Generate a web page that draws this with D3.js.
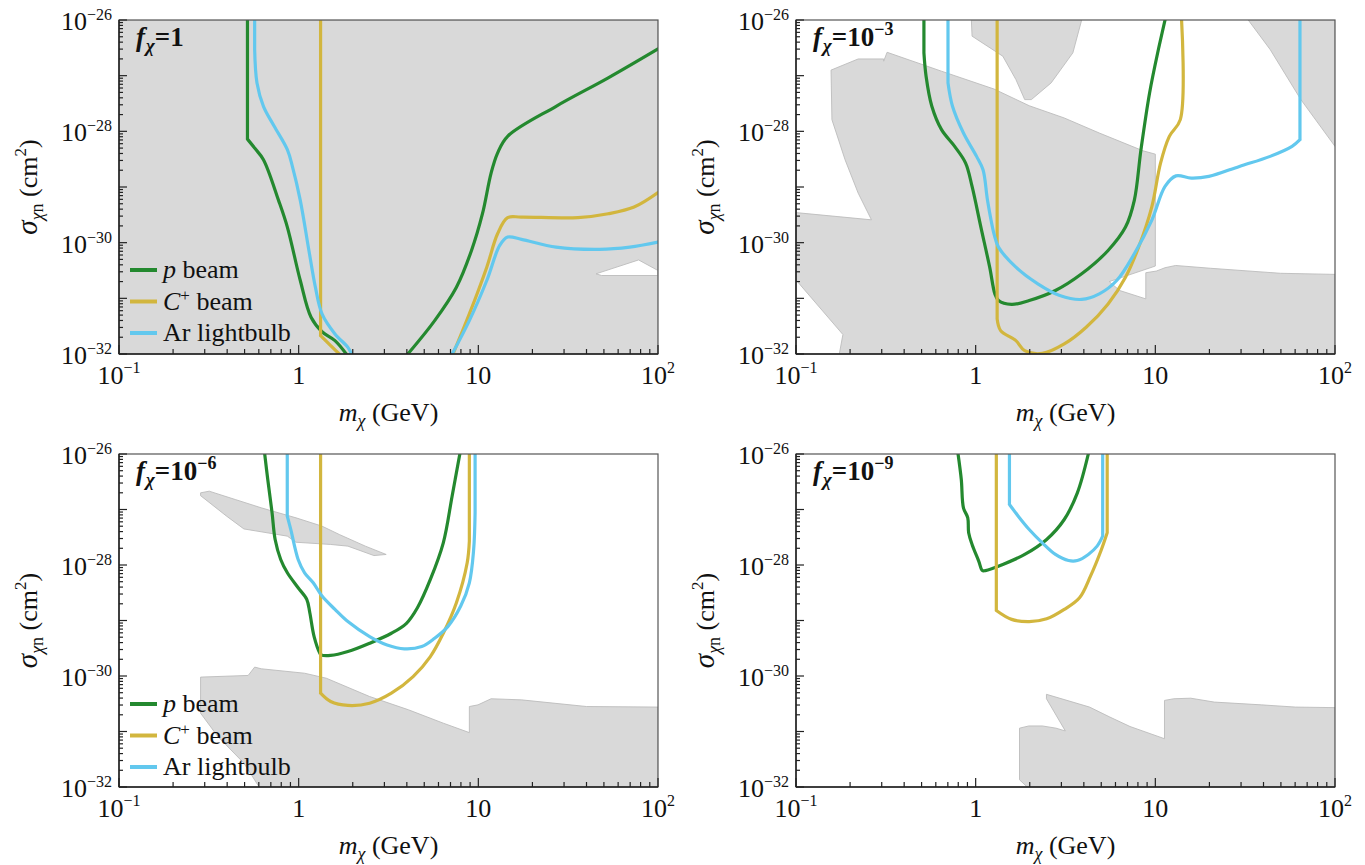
<!DOCTYPE html>
<html><head><meta charset="utf-8">
<script src="https://cdn.jsdelivr.net/npm/d3@7/dist/d3.min.js"></script>
<style>
body{margin:0;background:#fff}
text{font-family:"Liberation Serif","Times New Roman",serif;fill:#111}
</style>
</head><body>
<svg id="chart" width="1365" height="865"></svg>
<script>
// ---------- DATA (pairs are [log10(m / GeV), log10(sigma / cm^2)]) ----------
const xTickValues = [0.1, 1, 10, 100];
const xTickLabels = [["10","−1"],["1",""],["10",""],["10","2"]];
const yTickValues = [1e-26, 1e-28, 1e-30, 1e-32];
const yTickLabels = [["10","−26"],["10","−28"],["10","−30"],["10","−32"]];
const fractionLabels = [["1",""],["10","−3"],["10","−6"],["10","−9"]];
const seriesNames = ["p beam","C+ beam","Ar lightbulb"];

// f = 1
const pBeam_f1 = [
  [[-0.285,-26],[-0.285,-28.14],[-0.245,-28.30],[-0.196,-28.51],[-0.112,-29.24],[-0.063,-29.72],[0.009,-30.68],[0.069,-31.34],[0.130,-31.60],[0.202,-31.76],[0.265,-32]],
  [[0.6075,-32],[0.757,-31.40],[0.878,-30.80],[0.962,-30.14],[1.023,-29.48],[1.071,-28.75],[1.107,-28.39],[1.163,-28.09],[1.433,-27.55],[1.723,-27.04],[2.0,-26.52]]
];
const cBeam_f1 = [
  [[0.122,-26],[0.122,-31.67],[0.178,-31.85],[0.226,-32]],
  [[0.859,-32],[0.950,-31.28],[1.047,-30.44],[1.107,-29.84],[1.163,-29.55],[1.240,-29.54],[1.554,-29.55],[1.723,-29.48],[1.867,-29.36],[2.0,-29.10]]
];
const arBulb_f1 = [
  [[-0.245,-26],[-0.245,-26.53],[-0.232,-27.13],[-0.196,-27.55],[-0.136,-27.91],[-0.063,-28.33],[-0.035,-28.63],[0.009,-29.24],[0.057,-30.14],[0.093,-30.80],[0.130,-31.28],[0.202,-31.64],[0.274,-31.88],[0.294,-32]],
  [[0.854,-32],[0.950,-31.40],[1.047,-30.68],[1.119,-30.05],[1.163,-29.90],[1.240,-29.94],[1.433,-30.08],[1.674,-30.12],[1.843,-30.08],[2.0,-29.99]]
];
const excluded_f1 = [[[-1,-26],[2,-26],[2,-32],[-1,-32]]];
const allowedHole_f1 = [[1.655,-30.56],[1.892,-30.31],[2.0,-30.50],[2.0,-30.59],[1.686,-30.59]];

// f = 1e-3
const pBeam_f3 = [
  [[-0.288,-26],[-0.288,-26.59],[-0.276,-27.01],[-0.244,-27.55],[-0.190,-27.97],[-0.117,-28.27],[-0.056,-28.57],[-0.020,-28.99],[0.029,-29.72],[0.078,-30.44],[0.107,-30.92],[0.127,-31.04],[0.2,-31.11],[0.298,-31.04],[0.444,-30.86],[0.590,-30.56],[0.737,-30.14],[0.834,-29.72],[0.883,-29.24],[0.920,-28.33],[0.968,-27.31],[1.017,-26.53],[1.054,-26]]
];
const cBeam_f3 = [
  [[0.1195,-26],[0.1195,-31.37],[0.139,-31.58],[0.224,-31.76],[0.273,-31.94],[0.371,-31.99],[0.493,-31.82],[0.615,-31.52],[0.737,-31.10],[0.834,-30.62],[0.907,-30.08],[0.980,-29.36],[1.029,-28.57],[1.078,-28.09],[1.139,-27.79],[1.146,-26]]
];
const arBulb_f3 = [
  [[-0.154,-26],[-0.154,-27.13],[-0.129,-27.55],[-0.068,-28.03],[0.005,-28.45],[0.041,-28.69],[0.066,-29.24],[0.102,-29.84],[0.127,-30.08],[0.224,-30.44],[0.346,-30.74],[0.468,-30.95],[0.590,-31.02],[0.688,-30.92],[0.785,-30.68],[0.883,-30.20],[0.980,-29.60],[1.054,-28.99],[1.115,-28.80],[1.2,-28.84],[1.298,-28.81],[1.468,-28.63],[1.639,-28.45],[1.761,-28.27],[1.805,-28.15],[1.805,-26]]
];
const excluded_f3 = [
  [[-1,-29.46],[-0.580,-29.59],[-0.654,-29.11],[-0.727,-28.51],[-0.800,-27.79],[-0.805,-26.90],[-0.654,-26.70],[-0.512,-26.70],[-0.512,-26.74],[-0.493,-26.58],[-0.190,-26.92],[0.102,-27.24],[0.298,-27.54],[0.493,-27.76],[0.688,-28.03],[0.932,-28.35],[1.0,-28.41],[1.0,-30.42],[0.743,-30.70],[0.802,-30.86],[0.947,-31.01],[0.947,-30.54],[1.006,-30.51],[1.054,-30.45],[1.113,-30.41],[1.307,-30.46],[1.696,-30.55],[2.0,-30.57],[2.0,-32],[-0.759,-32],[-0.739,-31.65],[-1,-30.67]],
  [[-0.024,-26],[-0.020,-26.29],[0.151,-26.65],[0.224,-27.07],[0.273,-27.43],[0.310,-27.43],[0.420,-27.13],[0.541,-26.59],[0.590,-26]],
  [[1.517,-26],[1.639,-26.53],[1.810,-27.43],[2.0,-28.27],[2.0,-26]]
];

// f = 1e-6
const pBeam_f6 = [
  [[-0.189,-26],[-0.172,-26.46],[-0.148,-27.06],[-0.131,-27.54],[-0.100,-27.90],[-0.063,-28.14],[-0.003,-28.41],[0.045,-28.62],[0.062,-28.86],[0.086,-29.29],[0.118,-29.59],[0.125,-29.62],[0.178,-29.63],[0.274,-29.56],[0.395,-29.41],[0.516,-29.23],[0.600,-29.05],[0.661,-28.77],[0.733,-28.26],[0.805,-27.60],[0.854,-26.76],[0.897,-26]]
];
const cBeam_f6 = [
  [[0.122,-26],[0.122,-30.31],[0.178,-30.46],[0.274,-30.53],[0.395,-30.49],[0.516,-30.31],[0.637,-30.01],[0.733,-29.65],[0.805,-29.23],[0.878,-28.68],[0.938,-27.96],[0.950,-27.57],[0.950,-26]]
];
const arBulb_f6 = [
  [[-0.0635,-26],[-0.0635,-27.12],[-0.044,-27.36],[-0.003,-27.90],[0.033,-28.14],[0.081,-28.32],[0.130,-28.56],[0.202,-28.80],[0.274,-29.02],[0.395,-29.29],[0.492,-29.44],[0.588,-29.51],[0.685,-29.47],[0.757,-29.32],[0.830,-29.11],[0.902,-28.74],[0.950,-28.32],[0.974,-27.72],[0.982,-27.06],[0.982,-26]]
];
const excluded_f6 = [
  [[-0.546,-26.70],[-0.498,-26.67],[-0.353,-26.82],[-0.208,-26.97],[-0.015,-27.15],[0.130,-27.30],[0.226,-27.45],[0.371,-27.66],[0.487,-27.81],[0.419,-27.83],[0.274,-27.66],[0.178,-27.63],[-0.015,-27.59],[-0.063,-27.48],[-0.305,-27.35],[-0.401,-27.12],[-0.546,-26.75]],
  [[-0.546,-30.02],[-0.281,-29.99],[-0.245,-29.84],[-0.208,-29.87],[0.033,-29.95],[0.154,-30.04],[0.395,-30.37],[0.612,-30.61],[0.805,-30.85],[0.950,-31.02],[0.950,-30.55],[0.998,-30.52],[1.071,-30.41],[1.240,-30.43],[1.602,-30.55],[2.0,-30.56],[2.0,-32],[-0.220,-32],[-0.305,-31.57],[-0.450,-31.09],[-0.546,-30.67]]
];

// f = 1e-9
const pBeam_f9 = [
  [[-0.098,-26],[-0.080,-26.46],[-0.068,-26.97],[-0.044,-27.15],[-0.039,-27.42],[-0.020,-27.63],[0.017,-27.93],[0.037,-28.10],[0.054,-28.10],[0.151,-27.99],[0.273,-27.81],[0.395,-27.54],[0.493,-27.18],[0.566,-26.70],[0.627,-26]]
];
const cBeam_f9 = [
  [[0.115,-26],[0.115,-28.82],[0.2,-28.98],[0.298,-29.02],[0.395,-28.97],[0.493,-28.80],[0.578,-28.59],[0.639,-28.20],[0.700,-27.72],[0.732,-27.42],[0.732,-26]]
];
const arBulb_f9 = [
  [[0.188,-26],[0.188,-26.91],[0.237,-27.12],[0.298,-27.36],[0.371,-27.60],[0.444,-27.81],[0.517,-27.92],[0.566,-27.92],[0.627,-27.81],[0.676,-27.66],[0.707,-27.48],[0.707,-26]]
];
const excluded_f9 = [
  [[0.244,-30.94],[0.296,-30.90],[0.371,-30.90],[0.447,-30.94],[0.499,-30.99],[0.394,-30.41],[0.394,-30.33],[0.634,-30.56],[0.747,-30.74],[0.859,-30.91],[1.051,-31.13],[1.051,-30.44],[1.103,-30.41],[1.197,-30.40],[1.328,-30.47],[1.591,-30.52],[1.779,-30.56],[2.0,-30.57],[2.0,-32],[0.287,-32],[0.244,-31.87]]
];

// ---------- LAYOUT ----------
const panels = [
  {x0:119, x1:658, y0:20,  y1:354, frac:fractionLabels[0], series:[pBeam_f1,cBeam_f1,arBulb_f1], excl:excluded_f1, hole:allowedHole_f1, legend:true},
  {x0:796, x1:1335,y0:20,  y1:354, frac:fractionLabels[1], series:[pBeam_f3,cBeam_f3,arBulb_f3], excl:excluded_f3, hole:null, legend:false},
  {x0:119, x1:658, y0:454, y1:787, frac:fractionLabels[2], series:[pBeam_f6,cBeam_f6,arBulb_f6], excl:excluded_f6, hole:null, legend:true},
  {x0:796, x1:1335,y0:454, y1:787, frac:fractionLabels[3], series:[pBeam_f9,cBeam_f9,arBulb_f9], excl:excluded_f9, hole:null, legend:false}
];
const colors = ["#24892f","#d2b63e","#62c8ee"];
const svg = d3.select("#chart");

function rich(textSel, parts){
  let cur = 0;
  parts.forEach(p=>{
    const sh = p.shift||0;
    const t = textSel.append("tspan").text(p.t).attr("dy", cur - sh);
    if(p.size) t.attr("font-size", p.size);
    if(p.italic) t.attr("font-style","italic");
    if(p.bold) t.attr("font-weight","bold");
    if(p.dx) t.attr("dx", p.dx);
    cur = sh;
  });
  return textSel;
}

// split a series segment into straight vertical runs and smooth runs
function runs(seg){
  const out = []; let cur = [seg[0]]; let vertical = null;
  for(let i=1;i<seg.length;i++){
    const isV = seg[i][0] === seg[i-1][0];
    if(vertical === null) vertical = isV;
    if(isV !== vertical){ out.push({v:vertical, pts:cur}); cur=[seg[i-1]]; vertical=isV; }
    cur.push(seg[i]);
  }
  out.push({v:vertical, pts:cur});
  return out;
}

panels.forEach((P,i)=>{
  const g = svg.append("g");
  const x = d3.scaleLog().domain([0.1,100]).range([P.x0,P.x1]);
  const y = d3.scaleLog().domain([1e-32,1e-26]).range([P.y1,P.y0]);
  const px = d=>x(Math.pow(10,d[0])), py = d=>y(Math.pow(10,d[1]));
  const clipId = "clip"+i;
  g.append("clipPath").attr("id",clipId).append("rect")
    .attr("x",P.x0).attr("y",P.y0).attr("width",P.x1-P.x0).attr("height",P.y1-P.y0);
  const plot = g.append("g").attr("clip-path",`url(#${clipId})`);

  const poly = d3.line().x(px).y(py);
  const smooth = d3.line().x(px).y(py).curve(d3.curveCatmullRom.alpha(0.5));
  const polyPath = pts => poly(pts)+"Z";
  // excluded regions
  let dStr = P.excl.map(polyPath).join("");
  if(P.hole) dStr += polyPath(P.hole);
  plot.append("path").attr("d",dStr).attr("fill","#d9d9d9").attr("fill-rule","evenodd")
    .attr("stroke","#bcbcbc").attr("stroke-width",0.9);

  // curves
  P.series.forEach((segs,k)=>{
    segs.forEach(seg=>{
      const d = runs(seg).map(r => r.v ? poly(r.pts) : smooth(r.pts)).join("");
      plot.append("path").attr("d",d).attr("fill","none")
        .attr("stroke",colors[k]).attr("stroke-width",3.2)
        .attr("stroke-linejoin","round").attr("stroke-linecap","round");
    });
  });

  // frame
  g.append("rect").attr("x",P.x0).attr("y",P.y0).attr("width",P.x1-P.x0).attr("height",P.y1-P.y0)
    .attr("fill","none").attr("stroke","#555").attr("stroke-width",1.2);
  g.append("line").attr("x1",P.x0).attr("x2",P.x0).attr("y1",P.y0).attr("y2",P.y1).attr("stroke","#222").attr("stroke-width",1.5);
  g.append("line").attr("x1",P.x0).attr("x2",P.x1).attr("y1",P.y1).attr("y2",P.y1).attr("stroke","#222").attr("stroke-width",1.5);

  // x ticks
  for(let e=-1;e<2;e++){
    for(let k=1;k<10;k++){
      const v = k*Math.pow(10,e);
      const L = k===1?9:5;
      g.append("line").attr("x1",x(v)).attr("x2",x(v)).attr("y1",P.y1).attr("y2",P.y1-L)
        .attr("stroke","#222").attr("stroke-width",1.2);
    }
  }
  g.append("line").attr("x1",x(100)).attr("x2",x(100)).attr("y1",P.y1).attr("y2",P.y1-9).attr("stroke","#222").attr("stroke-width",1.2);
  // y ticks
  for(let e=-32;e<-26;e++){
    for(let k=1;k<10;k++){
      const v = k*Math.pow(10,e);
      const L = k===1?8:4;
      g.append("line").attr("x1",P.x0).attr("x2",P.x0+L).attr("y1",y(v)).attr("y2",y(v))
        .attr("stroke","#222").attr("stroke-width",1.2);
    }
  }
  g.append("line").attr("x1",P.x0).attr("x2",P.x0+8).attr("y1",y(1e-26)).attr("y2",y(1e-26)).attr("stroke","#222").attr("stroke-width",1.2);

  // tick labels
  xTickValues.forEach((v,j)=>{
    const t = g.append("text").attr("x",x(v)).attr("y",P.y1+30).attr("text-anchor","middle").attr("font-size",26);
    const parts=[{t:xTickLabels[j][0]}];
    if(xTickLabels[j][1]) parts.push({t:xTickLabels[j][1],size:16,shift:11});
    rich(t,parts);
  });
  yTickValues.forEach((v,j)=>{
    const t = g.append("text").attr("x",P.x0-7).attr("y",y(v)+10).attr("text-anchor","end").attr("font-size",26);
    rich(t,[{t:yTickLabels[j][0]},{t:yTickLabels[j][1],size:16,shift:10}]);
  });

  // axis titles
  const xt = g.append("text").attr("x",(P.x0+P.x1)/2).attr("y",P.y1+67).attr("text-anchor","middle").attr("font-size",26);
  rich(xt,[{t:"m",italic:true},{t:"χ",italic:true,size:18,shift:-6},{t:" (GeV)"}]);
  const yt = g.append("text").attr("transform",`translate(${P.x0-82},${(P.y0+P.y1)/2}) rotate(-90)`)
    .attr("text-anchor","middle").attr("font-size",26);
  rich(yt,[{t:"σ",italic:true,size:29},{t:"χ",italic:true,size:18,shift:-6},{t:"n",size:18,shift:-6},{t:" (cm"},{t:"2",size:17,shift:11},{t:")"}]);

  // fraction label
  const fl = g.append("text").attr("x",P.x0+17).attr("y",P.y0+26).attr("font-size",27).attr("font-weight","bold");
  const fparts=[{t:"f",italic:true,bold:true},{t:"χ",italic:true,size:19,shift:-6,dx:1},{t:"="+P.frac[0],bold:true}];
  if(P.frac[1]) fparts.push({t:P.frac[1],bold:true,size:18,shift:11});
  rich(fl,fparts);

  // legend
  if(P.legend){
    const legendParts = [
      [{t:"p",italic:true},{t:" beam"}],
      [{t:"C",italic:true},{t:"+",size:17,shift:9},{t:" beam"}],
      [{t:"Ar lightbulb"}]
    ];
    seriesNames.forEach((nm,k)=>{
      const ly = P.y0 + 250 + k*31.5;
      g.append("line").attr("x1",P.x0+11).attr("x2",P.x0+38).attr("y1",ly).attr("y2",ly)
        .attr("stroke",colors[k]).attr("stroke-width",4);
      const t = g.append("text").attr("x",P.x0+44).attr("y",ly+8).attr("font-size",26).attr("data-name",nm);
      rich(t,legendParts[k]);
    });
  }
});
</script>
</body></html>
